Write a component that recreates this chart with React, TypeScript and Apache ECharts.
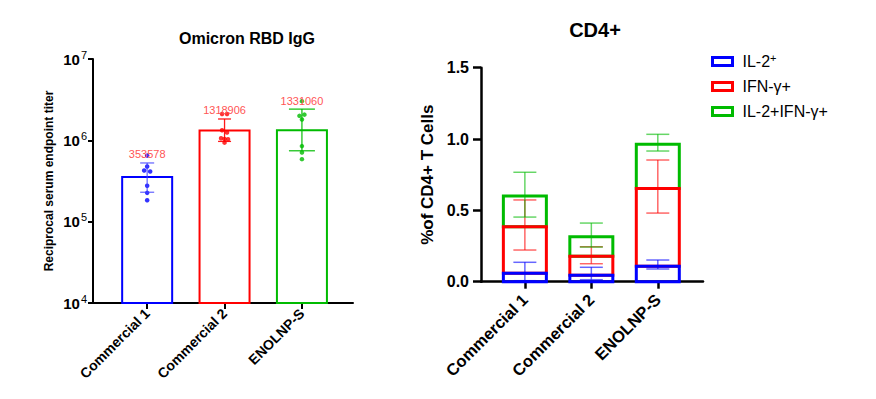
import React, { useEffect, useRef } from "react";
import * as echarts from "echarts";

const categories = ["Commercial 1", "Commercial 2", "ENOLNP-S"];

// Left panel: Omicron RBD IgG (log scale)
const titerMean = [353578, 1318906, 1331060];
const titerErrHigh = [527000, 1830000, 2420000];
const titerErrLow = [230000, 970000, 744000];
const titerDotsCommercial1 = [649000, 477000, 425000, 413000, 276000, 226000, 183000];
const titerDotsCommercial2 = [2110000, 2110000, 1330000, 1250000, 1060000, 1040000, 1030000, 936000];
const titerDotsEnolnp = [3030000, 2000000, 2070000, 1800000, 849000, 708000, 587000];
const logTicks = [10000, 100000, 1000000, 10000000];

// Right panel: CD4+ stacked bars (segment values)
const seriesNames = ["IL-2+", "IFN-γ+", "IL-2+IFN-γ+"];
const il2Values = [0.06, 0.045, 0.108];
const ifngValues = [0.325, 0.133, 0.546];
const doubleValues = [0.215, 0.137, 0.309];
// error bar ends (at cumulative heights)
const il2ErrHigh = [0.136, 0.101, 0.152];
const il2ErrLow = [0.007, 0.014, 0.089];
const ifngErrHigh = [0.573, 0.245, 0.853];
const ifngErrLow = [0.222, 0.126, 0.481];
const doubleErrHigh = [0.767, 0.411, 1.033];
const doubleErrLow = [0.453, 0.243, 0.916];
const cd4Ticks = [0, 0.5, 1.0, 1.5];

// styles
const BLUE = "#0000ff";
const RED = "#ff0000";
const GREEN = "#00bb00";
const groupColors = [BLUE, RED, GREEN];
const errColorsLeft = ["rgba(60,60,255,0.75)", "rgba(255,0,0,0.9)", "rgba(0,187,0,0.9)"];
const capWidthsLeft = [14, 13, 26];
const dotOffsets = [
  [0, 0, -3, 3, 0, 0, 0],
  [-2.5, 2.5, -2.5, 2.5, -3.5, 0, 3.5, 0],
  [0, -2.5, 2.5, 0, 0, 0, 0],
];
const FONT = "Arial, 'Liberation Sans', sans-serif";

export default function App() {
  const ref = useRef<HTMLDivElement>(null);

  useEffect(() => {
    if (!ref.current) return;
    const chart = echarts.init(ref.current, null, { renderer: "svg" });

    const dotSets = [titerDotsCommercial1, titerDotsCommercial2, titerDotsEnolnp];

    const segs = [il2Values, ifngValues, doubleValues];
    const errHi = [il2ErrHigh, ifngErrHigh, doubleErrHigh];
    const errLo = [il2ErrLow, ifngErrLow, doubleErrLow];

    const stackSeries: any[] = [];
    const cum = categories.map(() => 0);
    segs.forEach((vals, k) => {
      const data = vals.map((v, i) => {
        const base = cum[i];
        cum[i] = base + v;
        return [i, base, cum[i]];
      });
      stackSeries.push({
        type: "custom",
        name: seriesNames[k],
        xAxisIndex: 1,
        yAxisIndex: 1,
        z: 4 - k,
        itemStyle: { color: groupColors[k] },
        encode: { x: 0, y: [1, 2] },
        data,
        renderItem: (params: any, api: any) => {
          const i = api.value(0);
          const b = api.coord([i, api.value(1)]);
          const t = api.coord([i, api.value(2)]);
          return {
            type: "rect",
            shape: { x: t[0] - 21.5, y: t[1], width: 43, height: b[1] - t[1] },
            style: { fill: "none", stroke: groupColors[k], lineWidth: 3 },
          };
        },
      });
    });

    const rightErrSeries = segs.map((_, k) => ({
      type: "custom",
      name: seriesNames[k] + " error",
      xAxisIndex: 1,
      yAxisIndex: 1,
      z: 6,
      encode: { x: 0, y: [1, 2] },
      data: categories.map((_, i) => [i, errHi[k][i], errLo[k][i]]),
      renderItem: (params: any, api: any) => {
        const i = api.value(0);
        const h = api.coord([i, api.value(1)]);
        const l = api.coord([i, api.value(2)]);
        const st = { stroke: groupColors[k], lineWidth: 1.5, opacity: 0.6 };
        const cw = 11.5;
        return {
          type: "group",
          children: [
            { type: "line", shape: { x1: h[0], y1: h[1], x2: l[0], y2: l[1] }, style: st },
            { type: "line", shape: { x1: h[0] - cw, y1: h[1], x2: h[0] + cw, y2: h[1] }, style: st },
            { type: "line", shape: { x1: l[0] - cw, y1: l[1], x2: l[0] + cw, y2: l[1] }, style: st },
          ],
        };
      },
    }));

    const option: any = {
      animation: false,
      textStyle: { fontFamily: FONT },
      title: [
        {
          text: "Omicron RBD IgG",
          left: 242,
          top: 25,
          textAlign: "center",
          textStyle: { fontSize: 16, fontWeight: "bold", color: "#000", fontFamily: FONT },
        },
        {
          text: "CD4+",
          left: 590,
          top: 15,
          textAlign: "center",
          textStyle: { fontSize: 20, fontWeight: "bold", color: "#000", fontFamily: FONT },
        },
      ],
      legend: {
        orient: "vertical",
        left: 706,
        top: 47,
        itemWidth: 20,
        itemHeight: 8,
        itemGap: 9,
        icon: "rect",
        selectedMode: false,
        data: seriesNames.map((n, k) => ({
          name: n,
          itemStyle: { color: "#fff", borderColor: groupColors[k], borderWidth: 3 },
        })),
        formatter: (name: string) => (name === "IL-2+" ? "IL-2{sup|+}" : name),
        textStyle: {
          fontSize: 16,
          color: "#000",
          fontFamily: FONT,
          padding: [0, 0, 0, 5],
          rich: {
            sup: { fontSize: 11, verticalAlign: "top", padding: [0, 0, 8, 0], fontFamily: FONT },
          },
        },
      },
      grid: [
        { left: 93, top: 59, width: 260, height: 244 },
        { left: 481, top: 67.7, width: 222, height: 214 },
      ],
      xAxis: [
        {
          type: "value",
          gridIndex: 0,
          min: -0.7,
          max: 2.66,
          splitLine: { show: false },
          axisLine: { onZero: false, lineStyle: { color: "#000", width: 2 } },
          axisTick: { customValues: [0, 1, 2], length: 6, lineStyle: { color: "#000", width: 2 } },
          axisLabel: {
            customValues: [0, 1, 2],
            formatter: (v: number) => categories[Math.round(v)],
            rotate: 45,
            margin: 8,
            fontSize: 14,
            fontWeight: "bold",
            color: "#000",
            fontFamily: FONT,
          },
        },
        {
          type: "value",
          gridIndex: 1,
          min: -0.66,
          max: 2.68,
          splitLine: { show: false },
          axisLine: { onZero: false, lineStyle: { color: "#000", width: 2.5 } },
          axisTick: { customValues: [0, 1, 2], length: 7, lineStyle: { color: "#000", width: 2.5 } },
          axisLabel: {
            customValues: [0, 1, 2],
            formatter: (v: number) => categories[Math.round(v)],
            rotate: 45,
            margin: 15,
            fontSize: 16.5,
            fontWeight: "bold",
            color: "#000",
            fontFamily: FONT,
          },
        },
      ],
      yAxis: [
        {
          type: "log",
          gridIndex: 0,
          logBase: 10,
          min: logTicks[0],
          max: logTicks[logTicks.length - 1],
          splitLine: { show: false },
          minorTick: { show: false },
          axisLine: { show: true, onZero: false, lineStyle: { color: "#000", width: 2 } },
          axisTick: { show: true, length: 5, lineStyle: { color: "#000", width: 2 } },
          axisLabel: {
            margin: 6,
            color: "#000",
            fontSize: 15,
            fontWeight: "bold",
            fontFamily: FONT,
            formatter: (v: number) => "{b|10}{s|" + Math.round(Math.log10(v)) + "}",
            rich: {
              b: { fontSize: 15, fontWeight: "bold", color: "#000", fontFamily: FONT },
              s: { fontSize: 11, fontWeight: "normal", color: "#000", verticalAlign: "top", padding: [0, 0, 9, 1], fontFamily: FONT },
            },
          },
          name: "Reciprocal serum endpoint titer",
          nameLocation: "middle",
          nameGap: 38,
          nameRotate: 90,
          nameTextStyle: { fontSize: 12, fontWeight: "bold", color: "#000", fontFamily: FONT },
        },
        {
          type: "value",
          gridIndex: 1,
          min: cd4Ticks[0],
          max: cd4Ticks[cd4Ticks.length - 1],
          interval: 0.5,
          splitLine: { show: false },
          axisLine: { show: true, onZero: false, lineStyle: { color: "#000", width: 2.5 } },
          axisTick: { show: true, length: 8, lineStyle: { color: "#000", width: 2.5 } },
          axisLabel: {
            margin: 12,
            formatter: (v: number) => v.toFixed(1),
            fontSize: 16,
            fontWeight: "bold",
            color: "#000",
            fontFamily: FONT,
          },
          name: "%of CD4+ T Cells",
          nameLocation: "middle",
          nameGap: 45,
          nameRotate: 90,
          nameTextStyle: { fontSize: 17, fontWeight: "bold", color: "#000", fontFamily: FONT },
        },
      ],
      series: [
        {
          type: "custom",
          name: "titer bars",
          xAxisIndex: 0,
          yAxisIndex: 0,
          z: 2,
          encode: { x: 0, y: 1 },
          data: categories.map((_, i) => [i, titerMean[i]]),
          renderItem: (params: any, api: any) => {
            const i = api.value(0);
            const t = api.coord([i, api.value(1)]);
            const b = api.coord([i, logTicks[0]]);
            return {
              type: "rect",
              shape: { x: t[0] - 25, y: t[1], width: 50, height: b[1] - t[1] },
              style: { fill: "none", stroke: groupColors[i], lineWidth: 2 },
            };
          },
        },
        ...dotSets.map((dots, g) => ({
          type: "scatter",
          name: categories[g] + " points",
          xAxisIndex: 0,
          yAxisIndex: 0,
          z: 3,
          symbol: "circle",
          symbolSize: 4.5,
          itemStyle: { color: groupColors[g] },
          data: dots.map((v, j) => ({ value: [g, v], symbolOffset: [dotOffsets[g][j] || 0, 0] })),
        })),
        {
          type: "custom",
          name: "titer errors",
          xAxisIndex: 0,
          yAxisIndex: 0,
          z: 4,
          encode: { x: 0, y: [1, 2] },
          data: categories.map((_, i) => [i, titerErrHigh[i], titerErrLow[i], titerMean[i]]),
          renderItem: (params: any, api: any) => {
            const i = api.value(0);
            const h = api.coord([i, api.value(1)]);
            const l = api.coord([i, api.value(2)]);
            const st = { stroke: errColorsLeft[i], lineWidth: 1.3 };
            const cw = capWidthsLeft[i] / 2;
            return {
              type: "group",
              children: [
                { type: "line", shape: { x1: h[0], y1: h[1], x2: l[0], y2: l[1] }, style: st },
                { type: "line", shape: { x1: h[0] - cw, y1: h[1], x2: h[0] + cw, y2: h[1] }, style: st },
                { type: "line", shape: { x1: l[0] - cw, y1: l[1], x2: l[0] + cw, y2: l[1] }, style: st },
                {
                  type: "text",
                  x: h[0],
                  y: h[1] - 3,
                  z2: 10,
                  style: {
                    text: String(api.value(3)),
                    fill: "#ff5555",
                    fontSize: 11,
                    fontFamily: FONT,
                    textAlign: "center",
                    textVerticalAlign: "bottom",
                  },
                },
              ],
            };
          },
        },
        ...stackSeries,
        ...rightErrSeries,
      ],
    };

    chart.setOption(option);
    return () => chart.dispose();
  }, []);

  return (
    <div
      ref={ref}
      style={{ position: "absolute", left: 0, top: 0, width: 876, height: 399, background: "#fff" }}
    />
  );
}
